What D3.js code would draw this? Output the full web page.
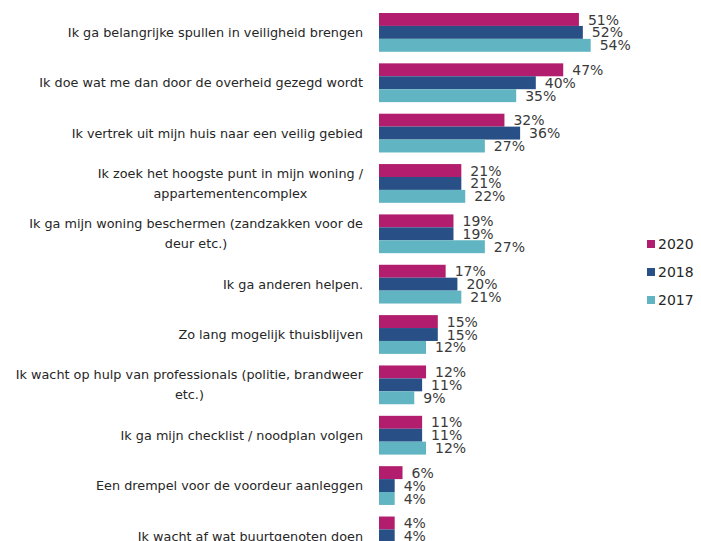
<!DOCTYPE html>
<html><head><meta charset="utf-8">
<script src="https://cdn.jsdelivr.net/npm/d3@7"></script>
<style>body{margin:0;background:#fff}svg{display:block}</style>
</head><body>
<script>
const categories = [
  ["Ik ga belangrijke spullen in veiligheid brengen"],
  ["Ik doe wat me dan door de overheid gezegd wordt"],
  ["Ik vertrek uit mijn huis naar een veilig gebied"],
  ["Ik zoek het hoogste punt in mijn woning /", "appartementencomplex"],
  ["Ik ga mijn woning beschermen (zandzakken voor de", "deur etc.)"],
  ["Ik ga anderen helpen."],
  ["Zo lang mogelijk thuisblijven"],
  ["Ik wacht op hulp van professionals (politie, brandweer", "etc.)"],
  ["Ik ga mijn checklist / noodplan volgen"],
  ["Een drempel voor de voordeur aanleggen"],
  ["Ik wacht af wat buurtgenoten doen"]
];
const seriesNames = ["2020", "2018", "2017"];
const values2020 = [51, 47, 32, 21, 19, 17, 15, 12, 11, 6, 4];
const values2018 = [52, 40, 36, 21, 19, 20, 15, 11, 11, 4, 4];
const values2017 = [54, 35, 27, 22, 27, 21, 12, 9, 12, 4, 3];
const colors = ["#B21D6D", "#284F86", "#61B4C1"];

const W = 701, H = 541;
const svg = d3.select("body").append("svg").attr("width", W).attr("height", H);
const font = "DejaVu Sans";

const series = [values2020, values2018, values2017];
const idx = d3.range(categories.length);
const y = d3.scaleBand().domain(idx).range([13, 13 + 49.3 * 11]).paddingInner(0.23).paddingOuter(0);
const yi = d3.scaleBand().domain(d3.range(3)).range([0, y.bandwidth()]);
const x = d3.scaleLinear().domain([0, 100]).range([379, 771]);

const g = svg.append("g");
idx.forEach(i => {
  const gy = y(i);
  series.forEach((s, k) => {
    g.append("rect")
      .attr("x", x(0)).attr("y", gy + yi(k))
      .attr("width", x(s[i]) - x(0)).attr("height", yi.bandwidth())
      .attr("fill", colors[k]);
  });
  series.forEach((s, k) => {
    g.append("text")
      .attr("x", x(s[i]) + 9).attr("y", gy + yi(k) + yi.bandwidth() / 2)
      .attr("dy", "0.36em")
      .attr("font-family", font).attr("font-size", 14)
      .attr("fill", "#3a3a3a")
      .text(s[i] + "%");
  });
  const lines = categories[i];
  const cy = gy + y.bandwidth() / 2;
  const lh = 20;
  const t = g.append("g");
  const texts = lines.map((ln, j) => t.append("text")
    .attr("y", cy + (j - (lines.length - 1) / 2) * lh)
    .attr("dy", "0.36em")
    .attr("font-family", font).attr("font-size", 12.8)
    .attr("fill", "#262626")
    .attr("text-anchor", "middle")
    .text(ln));
  const maxW = d3.max(texts, tx => tx.node().getComputedTextLength());
  texts.forEach(tx => tx.attr("x", 363 - maxW / 2));
});

const leg = svg.append("g");
seriesNames.forEach((n, k) => {
  const cy = 244 + k * 28;
  leg.append("rect").attr("x", 647).attr("y", cy - 4).attr("width", 8).attr("height", 8).attr("fill", colors[k]);
  leg.append("text").attr("x", 658).attr("y", cy).attr("dy", "0.36em")
    .attr("font-family", font).attr("font-size", 14).attr("fill", "#262626").text(n);
});
</script>
</body></html>
